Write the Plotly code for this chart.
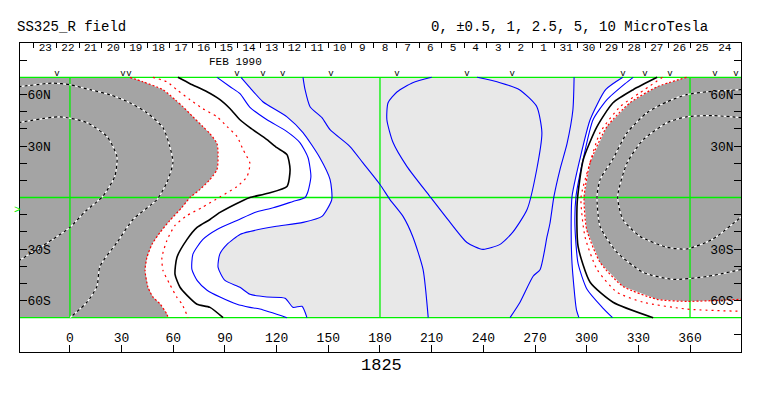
import plotly.graph_objects as go

# ---------------- data ----------------
TITLE_LEFT = "SS325_R field"
TITLE_RIGHT = "0, \u00b10.5, 1, 2.5, 5, 10 MicroTesla"
ROTATION = "1825"
MONTH_LABEL = "FEB 1990"
MONTH_LABEL_LON = 96

LON_TICKS = [0, 30, 60, 90, 120, 150, 180, 210, 240, 270, 300, 330, 360]
LAT_TICKS = [-80, -60, -50, -40, -30, -20, -10, 10, 20, 30, 40, 50, 60, 80]
LAT_LABELS = {60: "60N", 30: "30N", -30: "30S", -60: "60S"}

DAY_LABELS = ["23", "22", "21", "20", "19", "18", "17", "16", "15", "14", "13", "12",
              "11", "10", "9", "8", "7", "6", "5", "4", "3", "2", "1",
              "31", "30", "29", "28", "27", "26", "25", "24"]
DAY0_LON = -20.9          # longitude of first day boundary
DEG_PER_DAY = 13.15       # solar rotation in longitude per day

OBS_LONS = [-7.5, 30.8, 34.3, 97, 112, 123.5, 151.5, 189.9, 230.5, 256.7,
            321, 333.8, 348.4, 374.5, 386.7]
EARTH_B0 = -7

GRID_LONS = [0, 180, 360]
GRID_LATS = [70, 0, -70]
LAT_LIMIT = 70
LON_RANGE = [-29.0, 389.6]
LAT_RANGE = [-90, 90]

# contour lines (lon, lat) digitised from the map
# +5 level (inner dashed)
dash_in_left_lon = [-30, -5.8, 9.9, 21.5, 27.3, 26, 19, 9, 0, -10, -30]
dash_in_left_lat = [43.6, 47, 43.6, 35.5, 23.8, 12.2, 0.6, -8, -17.4, -24.4, -37]
dash_in_right_lon = [390, 373, 358, 346.7, 332.8, 323.5, 318, 321, 331, 346.7, 358, 373, 390]
dash_in_right_lat = [46.5, 47.7, 47, 43.6, 33.7, 20.3, 0.6, -12.8, -22.7, -29, -30, -24.4, -11]
# +2.5 level (outer dashed)
dash_out_left_lon = [-30, -9.9, 0, 11.6, 23.2, 34.8, 44.7, 54, 58, 59.8, 56.3, 50.5, 36.6,
                     27.3, 17.4, 15.7, 9.9, 0]
dash_out_left_lat = [64.5, 66.6, 65.7, 62.8, 59.9, 55.2, 49.4, 40.7, 29.7, 20.3, 8.7, -1.2,
                     -12.8, -26.2, -40.1, -51.7, -61, -70]
dash_out_right_lon = [390, 370, 358, 346.7, 335, 323.5, 315, 307.8, 306, 307.8, 317.6,
                      332.8, 350, 370, 390]
dash_out_right_lat = [62.8, 61.6, 59.9, 55.8, 49.4, 37.8, 22, 10.5, 0.6, -16.9, -32,
                      -43.6, -47.7, -46, -41.9]
# +1 level (gray boundary, red)
red2_left_lon = [34.8, 42.4, 54, 61, 65.6, 71.4, 77.2, 81.3, 85.4, 86, 85.4, 81.3, 75.5,
                 69.7, 65, 58, 52.3, 47.6, 44.7, 43.6, 45.3, 48.2, 52.3, 56.3, 57]
red2_left_lat = [70, 67.4, 62.8, 57, 52.9, 47, 41.3, 37.2, 31.4, 23.8, 16.3, 10.5, 4.7,
                 0, -5.8, -13.4, -20.3, -27.3, -34.9, -42.4, -52.3, -58, -62, -68, -70]
red2_right_lon = [358, 340.9, 325.2, 311.8, 302, 298.5, 300, 307.8, 321, 340.9, 358, 390]
red2_right_lat = [70, 64.5, 55.2, 41.3, 20.3, 0, -18.6, -37.8, -51.7, -59.3, -60.5, -59.3]
# +0.5 level (red dotted)
red1_left_lon = [48.2, 56.3, 62, 69.7, 77.2, 85.4, 91.2, 97, 100.5, 104.5, 102.8, 97, 87,
                 76.7, 68, 61, 56.3, 53.4, 54, 58, 62, 65, 68, 68.5]
red1_left_lat = [70, 67.4, 62.8, 57, 51.7, 47, 41.3, 35.5, 27.9, 19.8, 12.2, 6.4, 0.3,
                 -5.8, -10.5, -16.3, -25, -34.9, -42.4, -50.6, -58, -62, -68.6, -70]
red1_right_lon = [344, 330.9, 319.4, 307.8, 300.8, 296.7, 299, 306, 317.6, 332.8, 358, 390]
red1_right_lat = [70, 61, 52.9, 37.8, 16.3, 0, -22.7, -41.9, -55.2, -61, -65, -66.3]
# 0 level (black)
black_left_lon = [62.7, 69.7, 79.6, 87.1, 93, 98.7, 104.5, 114.4, 120.2, 126, 127.8, 126,
                  115, 104.5, 100.5, 87.1, 81.3, 73.8, 68, 62.1, 61, 63.9, 68, 73.8, 81.3, 88.9]
black_left_lat = [70, 66.3, 61.6, 57, 51.7, 45.3, 40.7, 33.7, 29, 25, 16.3, 6.4, 2.5, 0,
                  -1.7, -8.7, -12.8, -17.4, -24.4, -34.9, -44.8, -52.3, -57, -62.2, -64, -70]
black_right_lon = [340.9, 327, 315.3, 306, 298, 294.5, 295, 302, 315.3, 338.6]
black_right_lat = [70, 62.8, 55.2, 41.3, 22, -2.9, -28.5, -49.4, -61, -70]
# -0.5 level (blue)
lw_left_lon = [85.4, 93, 98.7, 104.5, 114.4, 126, 133.5, 138.2, 139.9, 138.2, 136.5, 129.5,
               118, 107.3, 97, 85.4, 77.2, 71.4, 70.8, 73.8, 79.6, 87.1, 97, 104.5, 110.3, 126]
lw_left_lat = [70, 64.5, 60.5, 52.5, 45.3, 38.4, 32, 23.3, 12.2, 3.5, 0, -2.3, -6, -8.7,
               -13.4, -18.6, -24.4, -33, -41.9, -48.3, -54, -58, -62.2, -64, -65, -70]
lw_right_lon = [327, 322.3, 311.8, 303.7, 297.9, 293.8, 293.2, 295, 300.2, 309, 315]
lw_right_lat = [70, 66.3, 57, 45.3, 22, 0.6, -16.9, -38.4, -53.5, -64, -70]
# -1 level (blue, light gray boundary)
lb_left_lon = [99.3, 104.5, 112, 126, 135.3, 145, 151, 152, 146.3, 135.3, 119, 104.5, 98.7,
               91.2, 87, 86, 90, 98.7, 104.5, 114.4, 124.9, 129.5, 134.7, 137.6]
lb_left_lat = [70, 64, 55.8, 47, 37.8, 23.3, 10.5, -1.2, -11, -14.5, -16.9, -19.8, -21.5,
               -27.3, -33, -40.7, -48.3, -52.3, -56.4, -58, -58.7, -64, -63.4, -70]
lb_right_lon = [321, 311, 302, 296, 291.5, 291, 291.5, 294, 295.5]
lb_right_lat = [70, 62.8, 45.3, 22, 0.6, -16.9, -38.4, -65, -70]
# -2.5 level (blue)
l2_left_lon = [135.3, 136.5, 139.4, 146.3, 151, 162.6, 170, 180, 185.8, 193.4, 199, 205, 208]
l2_left_lat = [70, 62.8, 52.9, 46.5, 39.5, 29.7, 20.3, 7.6, -1.2, -11, -22.7, -41.9, -70]
l2_right_lon = [292.7, 292, 288.6, 284.5, 281, 278.7, 277, 273, 268.9, 261.3, 255.5]
l2_right_lat = [70, 51, 31.4, 16.3, 0.6, -15, -22.7, -41.9, -45.9, -61, -70]
# -5 level (blue tongue from the top)
loop_lon = [210, 199, 190, 184.7, 184, 187.6, 195.7, 209, 220.7, 230.5, 239.8, 249.7, 257,
            265.4, 271, 274, 271, 261, 249.7, 236.4]
loop_lat = [70, 66.9, 61.6, 55.2, 45.3, 32, 18, 0.6, -14.5, -26.2, -30.2, -27.3, -20.3,
            -7, 16.3, 37.8, 53, 62.8, 66.9, 70]

# ---------------- styles ----------------
FONT = "Liberation Mono"
DARK_GRAY = "#A4A4A4"
LIGHT_GRAY = "#E8E8E8"
GREEN = "#00F000"
BLUE = "#0000FF"
RED = "#FF0000"
SMOOTH = 0.6

fig = go.Figure()

def add_line(lon, lat, color, width=1, dash="solid"):
    fig.add_trace(go.Scatter(x=lon, y=lat, mode="lines", hoverinfo="skip",
                             line=dict(color=color, width=width, dash=dash, shape="spline",
                                       smoothing=SMOOTH),
                             showlegend=False))

def add_fill(lon, lat, color):
    fig.add_trace(go.Scatter(x=lon, y=lat, mode="lines", fill="toself", fillcolor=color,
                             line=dict(width=0, color=color), hoverinfo="skip",
                             showlegend=False))

edge_l = LON_RANGE[0] - 10
edge_r = LON_RANGE[1] + 10
# fills
add_fill(lb_left_lon + lb_right_lon[::-1], lb_left_lat + lb_right_lat[::-1], LIGHT_GRAY)
add_fill([edge_l] + red2_left_lon + [edge_l], [LAT_LIMIT] + red2_left_lat + [-LAT_LIMIT],
         DARK_GRAY)
add_fill(red2_right_lon + [edge_r, edge_r], red2_right_lat + [red2_right_lat[-1], LAT_LIMIT],
         DARK_GRAY)

# green reference lines
gx, gy = [], []
for lo in GRID_LONS:
    gx += [lo, lo, None]
    gy += [-LAT_LIMIT, LAT_LIMIT, None]
for la in GRID_LATS:
    gx += [edge_l, edge_r, None]
    gy += [la, la, None]
fig.add_trace(go.Scatter(x=gx, y=gy, mode="lines", line=dict(color=GREEN, width=1.3),
                         hoverinfo="skip", showlegend=False))

# contour lines
for lon, lat in [(l2_left_lon, l2_left_lat), (l2_right_lon, l2_right_lat), (loop_lon, loop_lat),
                 (lb_left_lon, lb_left_lat), (lb_right_lon, lb_right_lat),
                 (lw_left_lon, lw_left_lat), (lw_right_lon, lw_right_lat)]:
    add_line(lon, lat, BLUE, 1.1)
for lon, lat in [(black_left_lon, black_left_lat), (black_right_lon, black_right_lat)]:
    add_line(lon, lat, "black", 1.6)
for lon, lat in [(red1_left_lon, red1_left_lat), (red1_right_lon, red1_right_lat)]:
    add_line(lon, lat, RED, 1.2, "2px,4px")
for lon, lat in [(red2_left_lon, red2_left_lat), (red2_right_lon, red2_right_lat)]:
    add_line(lon, lat, RED, 1.2, "2px,2px")
for lon, lat in [(dash_in_left_lon, dash_in_left_lat), (dash_in_right_lon, dash_in_right_lat),
                 (dash_out_left_lon, dash_out_left_lat), (dash_out_right_lon, dash_out_right_lat)]:
    add_line(lon, lat, "white", 1.2)
    add_line(lon, lat, "black", 1.2, "3px,3px")

# header: day numbers, month, observation marks
day_bounds = [DAY0_LON + k * DEG_PER_DAY for k in range(len(DAY_LABELS) + 1)]
day_centers = [DAY0_LON + (k + 0.5) * DEG_PER_DAY for k in range(len(DAY_LABELS))]
fig.add_trace(go.Scatter(x=day_centers, y=[86.8] * len(DAY_LABELS), mode="text",
                         text=DAY_LABELS, textfont=dict(family=FONT, size=11, color="black"),
                         hoverinfo="skip", showlegend=False))
fig.add_trace(go.Scatter(x=OBS_LONS, y=[72.0] * len(OBS_LONS), mode="text",
                         text=["v"] * len(OBS_LONS),
                         textfont=dict(family=FONT, size=9, color="black"),
                         hoverinfo="skip", showlegend=False))
# helper trace for the secondary axes
fig.add_trace(go.Scatter(x=[LON_RANGE[0]], y=[0], xaxis="x2", yaxis="y2", mode="markers",
                         marker=dict(opacity=0), hoverinfo="skip", showlegend=False))

lat_text = [LAT_LABELS.get(v, "") for v in LAT_TICKS]
yax = dict(range=LAT_RANGE, tickvals=LAT_TICKS, ticktext=lat_text, ticks="inside",
           ticklen=7, tickcolor="black", ticklabelposition="inside",
           tickfont=dict(family=FONT, size=13, color="black"),
           showgrid=False, zeroline=False, showline=True, linecolor="black", linewidth=1,
           fixedrange=True, automargin=False)

fig.update_layout(
    width=763, height=396,
    margin=dict(l=20, r=22, t=43, b=44, pad=0),
    paper_bgcolor="white", plot_bgcolor="white",
    font=dict(family=FONT, color="black"),
    showlegend=False,
    hovermode=False,
    xaxis=dict(range=LON_RANGE, tickvals=LON_TICKS, ticks="inside", ticklen=7,
               tickcolor="black", ticklabelposition="inside",
               tickfont=dict(family=FONT, size=13, color="black"),
               showgrid=False, zeroline=False, showline=True, mirror=True,
               linecolor="black", linewidth=1, fixedrange=True, automargin=False),
    xaxis2=dict(range=LON_RANGE, overlaying="x", side="top", tickvals=day_bounds,
                ticks="inside", ticklen=5, tickcolor="black", showticklabels=False,
                showgrid=False, zeroline=False, showline=False, fixedrange=True,
                automargin=False),
    yaxis=yax,
    yaxis2=dict(yax, overlaying="y", side="right"),
    annotations=[
        dict(text=TITLE_LEFT, xref="paper", yref="paper", x=-0.007, y=1.052,
             xanchor="left", yanchor="middle", showarrow=False,
             font=dict(family=FONT, size=14, color="black")),
        dict(text=TITLE_RIGHT, xref="paper", yref="paper", x=0.957, y=1.052,
             xanchor="right", yanchor="middle", showarrow=False,
             font=dict(family=FONT, size=14, color="black")),
        dict(text=MONTH_LABEL, xref="x", yref="y", x=MONTH_LABEL_LON, y=79.0,
             xanchor="center", yanchor="middle", showarrow=False,
             font=dict(family=FONT, size=11, color="black")),
        dict(text=ROTATION, xref="paper", yref="paper", x=0.502, y=-0.045,
             xanchor="center", yanchor="middle", showarrow=False,
             font=dict(family=FONT, size=17, color="black")),
        dict(text=">", xref="paper", yref="y", x=-0.004, y=EARTH_B0,
             xanchor="center", yanchor="middle", showarrow=False,
             font=dict(family=FONT, size=11, color=GREEN)),
    ],
)

fig.write_html("out.html", config={"displayModeBar": False, "staticPlot": True},
               post_script="document.body.style.margin='0px';")
